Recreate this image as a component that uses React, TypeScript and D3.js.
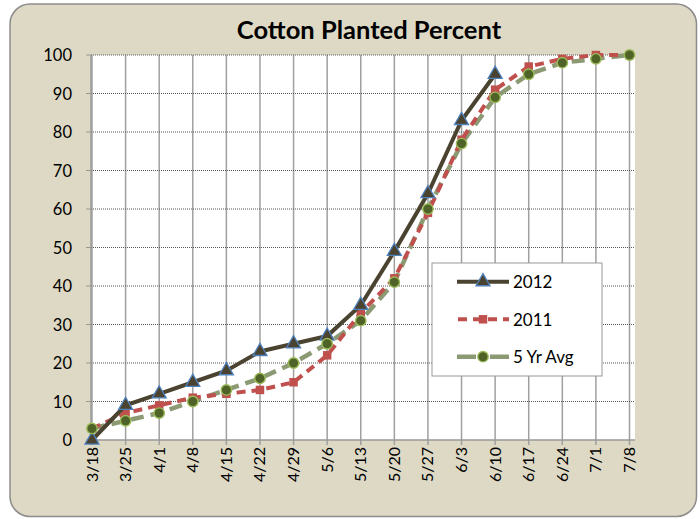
import React from 'react';
import * as d3 from 'd3';

const weeks = ["3/18", "3/25", "4/1", "4/8", "4/15", "4/22", "4/29", "5/6", "5/13", "5/20", "5/27", "6/3", "6/10", "6/17", "6/24", "7/1", "7/8"];
const y2012: (number | null)[] = [0, 9, 12, 15, 18, 23, 25, 27, 35, 49, 64, 83, 95, null, null, null, null];
const y2011: number[] = [3, 7, 9, 11, 12, 13, 15, 22, 33, 42, 59, 78, 91, 97, 99, 100, 100];
const yAvg: number[] = [3, 5, 7, 10, 13, 16, 20, 25, 31, 41, 60, 77, 89, 95, 98, 99, 100];
const yTicks = [0, 10, 20, 30, 40, 50, 60, 70, 80, 90, 100];

const W = 700;
const H = 519;
const PLOT = { left: 91, right: 635, top: 55, bottom: 440 };
const FONT = "Lato, 'Open Sans', sans-serif";

type Pt = { i: number; v: number };

const App: React.FC = () => {
  const x = d3.scalePoint<number>()
    .domain(weeks.map((_, i) => i))
    .range([92, 629.5]);
  const y = d3.scaleLinear().domain([0, 100]).range([PLOT.bottom, PLOT.top]);

  const toPts = (arr: (number | null)[]): Pt[] =>
    arr.map((v, i) => ({ i, v: v as number })).filter(d => d.v !== null && d.v !== undefined);

  const line = d3.line<Pt>().x(d => x(d.i)!).y(d => y(d.v));

  const p2012 = toPts(y2012);
  const p2011 = toPts(y2011);
  const pAvg = toPts(yAvg);

  const tri = d3.symbol().type(d3.symbolTriangle).size(85)();
  const sq = d3.symbol().type(d3.symbolSquare).size(72)();

  const legendX = 432;
  const legendY = 263;
  const rows = [281.7, 319.3, 356.7];

  return (
    <svg width={W} height={H} style={{ position: 'absolute', left: 0, top: 0 }}>
      <rect x={10} y={4} width={686.5} height={512.5} rx={20} ry={20}
        fill="#ddd9c4" stroke="#8c8c8c" strokeWidth={1.5} />
      <text x={369} y={39} textAnchor="middle" fontFamily={FONT} fontWeight="bold" fontSize={25.5} fill="#000">
        Cotton Planted Percent
      </text>

      <rect x={PLOT.left} y={PLOT.top} width={PLOT.right - PLOT.left} height={PLOT.bottom - PLOT.top} fill="#fff" />

      {/* vertical grid */}
      {weeks.map((_, i) => (
        <line key={'vg' + i} x1={x(i)} x2={x(i)} y1={PLOT.top} y2={PLOT.bottom + 5}
          stroke="#a0a0a0" strokeWidth={1.5} />
      ))}
      {/* horizontal grid */}
      {yTicks.map(t => (
        <g key={'hg' + t}>
          {t > 0 && (
            <line x1={PLOT.left} x2={PLOT.right} y1={y(t)} y2={y(t)}
              stroke="#555" strokeWidth={1} strokeDasharray="1,1" />
          )}
          <line x1={PLOT.left - 5} x2={PLOT.left} y1={y(t)} y2={y(t)} stroke="#999" strokeWidth={1} />
          <text x={72} y={y(t)} textAnchor="end" dominantBaseline="central"
            fontFamily={FONT} fontSize={16.5} fill="#000">{t}</text>
        </g>
      ))}
      <line x1={PLOT.left} x2={PLOT.left} y1={PLOT.top} y2={PLOT.bottom} stroke="#999" strokeWidth={1.5} />
      <line x1={PLOT.left} x2={PLOT.right} y1={PLOT.bottom} y2={PLOT.bottom} stroke="#999" strokeWidth={1.5} />

      {weeks.map((w, i) => (
        <text key={'xl' + i} transform={`translate(${x(i)! + 5.5},447) rotate(-90)`}
          textAnchor="end" fontFamily={FONT} fontSize={16} fill="#000">{w}</text>
      ))}

      {/* 5 yr avg */}
      <path d={line(pAvg) || ''} fill="none" stroke="#8c9a74" strokeWidth={4.5}
        strokeDasharray="13,7" />
      {/* 2011 */}
      <path d={line(p2011) || ''} fill="none" stroke="#c0504d" strokeWidth={4}
        strokeDasharray="9,6" />
      {p2011.map(d => (
        <path key={'s' + d.i} d={sq || ''} transform={`translate(${x(d.i)},${y(d.v)})`} fill="#c0504d" />
      ))}
      {/* 2012 */}
      <path d={line(p2012) || ''} fill="none" stroke="#4a4330" strokeWidth={4} />
      {p2012.map(d => (
        <path key={'t' + d.i} d={tri || ''} transform={`translate(${x(d.i)},${y(d.v)})`}
          fill="#4a4330" stroke="#4f81bd" strokeWidth={1.3} />
      ))}
      {pAvg.map(d => (
        <circle key={'c' + d.i} cx={x(d.i)} cy={y(d.v)} r={5.2} fill="#4f6228" stroke="#9bbb59" strokeWidth={1.4} />
      ))}

      {/* legend */}
      <rect x={legendX} y={legendY} width={170} height={113} fill="#fff" stroke="#999" strokeWidth={1} />
      <line x1={457} x2={509} y1={rows[0]} y2={rows[0]} stroke="#4a4330" strokeWidth={4} />
      <path d={tri || ''} transform={`translate(483,${rows[0]})`} fill="#4a4330" stroke="#4f81bd" strokeWidth={1.3} />
      <line x1={457} x2={509} y1={rows[1]} y2={rows[1]} stroke="#c0504d" strokeWidth={4} strokeDasharray="9,6" strokeDashoffset={-1} />
      <path d={sq || ''} transform={`translate(483,${rows[1]})`} fill="#c0504d" />
      <line x1={457} x2={509} y1={rows[2]} y2={rows[2]} stroke="#8c9a74" strokeWidth={4.5} strokeDasharray="19,14" />
      <circle cx={483} cy={rows[2]} r={5.2} fill="#4f6228" stroke="#9bbb59" strokeWidth={1.4} />
      {["2012", "2011", "5 Yr Avg"].map((s, k) => (
        <text key={s} x={513} y={rows[k]} dominantBaseline="central" fontFamily={FONT} fontSize={17} fill="#000">{s}</text>
      ))}
    </svg>
  );
};

export default App;
